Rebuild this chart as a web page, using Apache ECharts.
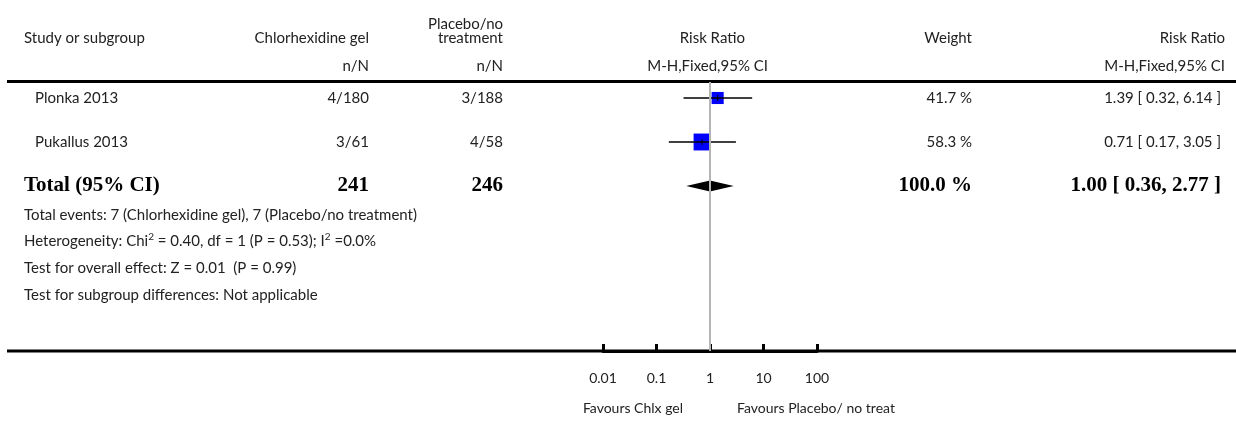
<!DOCTYPE html>
<html>
<head>
<meta charset="utf-8">
<script src="https://cdn.jsdelivr.net/npm/echarts@6/dist/echarts.min.js"></script>
<style>
html,body{margin:0;padding:0;background:#fff;}
#main{width:1236px;height:421px;}
</style>
</head>
<body>
<div id="main"></div>
<script>
// ---- data ----
var studies = ['Plonka 2013', 'Pukallus 2013'];
var expEvents = ['4/180', '3/61'];
var ctlEvents = ['3/188', '4/58'];
var rr = [1.39, 0.71];
var rrLow = [0.32, 0.17];
var rrHigh = [6.14, 3.05];
var weights = [41.7, 58.3];
var weightLabels = ['41.7 %', '58.3 %'];
var rrLabels = ['1.39 [ 0.32, 6.14 ]', '0.71 [ 0.17, 3.05 ]'];
var totalLabel = 'Total (95% CI)';
var totalExp = '241';
var totalCtl = '246';
var totalRR = 1.00;
var totalLow = 0.36;
var totalHigh = 2.77;
var totalWeight = '100.0 %';
var totalRRLabel = '1.00 [ 0.36, 2.77 ]';
var footnotes = [
  'Total events: 7 (Chlorhexidine gel), 7 (Placebo/no treatment)',
  'Heterogeneity: Chi{sup|2} = 0.40, df = 1 (P = 0.53); I{sup|2} =0.0%',
  'Test for overall effect: Z = 0.01  (P = 0.99)',
  'Test for subgroup differences: Not applicable'
];
var tickValues = [0.01, 0.1, 1, 10, 100];
var tickLabels = ['0.01', '0.1', '1', '10', '100'];
var favoursLeft = 'Favours Chlx gel';
var favoursRight = 'Favours Placebo/ no treat';

// ---- layout ----
var SANS = 'Lato, "DejaVu Sans", sans-serif';
var SERIF = '"Liberation Serif", "DejaVu Serif", serif';
var TXT = '#222';
var FS = 15;
var rowPx = 44, firstRowPx = 98, gridTop = 82, gridBottomPx = 351;

var chart = echarts.init(document.getElementById('main'), null, {renderer: 'canvas'});

var studyData = studies.map(function (s, i) {
  return [i, rr[i], rrLow[i], rrHigh[i], weights[i]];
});
var totalData = [[studies.length, totalRR, totalLow, totalHigh]];

chart.setOption({
  animation: false,
  grid: {left: 603, width: 214, top: gridTop, height: gridBottomPx - gridTop},
  xAxis: {
    type: 'log', logBase: 10, min: 0.01, max: 100,
    axisLine: {show: true, onZero: false, lineStyle: {color: '#000', width: 3}},
    axisTick: {show: true, inside: true, length: 7, lineStyle: {color: '#000', width: 3}},
    axisLabel: {show: false},
    splitLine: {show: false},
    minorTick: {show: false}
  },
  yAxis: {
    type: 'value', inverse: true,
    min: (gridTop - firstRowPx) / rowPx,
    max: (gridBottomPx - firstRowPx) / rowPx,
    show: false
  },
  series: [
    {
      type: 'custom',
      data: studyData,
      z: 3,
      renderItem: function (params, api) {
        var y = api.value(0);
        var pEst = api.coord([api.value(1), y]);
        var pLo = api.coord([api.value(2), y]);
        var pHi = api.coord([api.value(3), y]);
        var size = api.value(4) * 0.29;
        return {
          type: 'group',
          children: [
            {type: 'rect', shape: {x: pEst[0] - size / 2, y: pEst[1] - size / 2, width: size, height: size},
              style: {fill: '#0000ff'}},
            {type: 'line', shape: {x1: pLo[0], y1: pLo[1], x2: pHi[0], y2: pHi[1]},
              style: {stroke: '#000', lineWidth: 1.5}},
            {type: 'line', shape: {x1: pEst[0], y1: pEst[1] - 3, x2: pEst[0], y2: pEst[1] + 3},
              style: {stroke: '#000', lineWidth: 1}}
          ]
        };
      },
      markLine: {
        silent: true, symbol: 'none', label: {show: false},
        lineStyle: {color: '#b5b5b5', width: 2, type: 'solid'},
        data: [{xAxis: 1}]
      }
    },
    {
      type: 'custom',
      data: totalData,
      z: 3,
      renderItem: function (params, api) {
        var y = api.value(0);
        var pEst = api.coord([api.value(1), y]);
        var pLo = api.coord([api.value(2), y]);
        var pHi = api.coord([api.value(3), y]);
        var h = 5.5;
        return {
          type: 'polygon',
          shape: {points: [[pLo[0], pLo[1]], [pEst[0], pEst[1] - h], [pHi[0], pHi[1]], [pEst[0], pEst[1] + h]]},
          style: {fill: '#000'}
        };
      }
    }
  ]
});

function rowY(i) { return chart.convertToPixel({yAxisIndex: 0}, i); }
function tx(i) { return chart.convertToPixel({xAxisIndex: 0}, i); }

var g = [];
function T(text, x, y, align, opts) {
  opts = opts || {};
  g.push({
    type: 'text', silent: true,
    style: {
      text: text, x: x, y: y, align: align, verticalAlign: 'middle',
      fill: opts.fill || TXT,
      font: opts.font || (FS + 'px ' + SANS),
      rich: opts.rich
    }
  });
}
// rules
g.push({type: 'line', shape: {x1: 7, y1: 81.5, x2: 1236, y2: 81.5}, style: {stroke: '#000', lineWidth: 3}});
g.push({type: 'line', shape: {x1: 7, y1: 351, x2: 1236, y2: 351}, style: {stroke: '#000', lineWidth: 3}});

// headers
T('Study or subgroup', 24, 38, 'left');
T('Chlorhexidine gel', 369, 38, 'right');
T('Placebo/no', 503, 24, 'right');
T('treatment', 503, 38, 'right');
T('n/N', 369, 66, 'right');
T('n/N', 503, 66, 'right');
T('Risk Ratio', 745, 38, 'right');
T('M-H,Fixed,95% CI', 768, 66, 'right');
T('Weight', 972, 38, 'right');
T('Risk Ratio', 1225, 38, 'right');
T('M-H,Fixed,95% CI', 1225, 66, 'right');

// study rows
studies.forEach(function (s, i) {
  var y = rowY(i);
  T(s, 35, y, 'left');
  T(expEvents[i], 369, y, 'right');
  T(ctlEvents[i], 503, y, 'right');
  T(weightLabels[i], 972, y, 'right');
  T(rrLabels[i], 1221, y, 'right');
});
// total row
var BF = 'bold 21px ' + SERIF;
var ty = rowY(studies.length);
T(totalLabel, 24, ty, 'left', {font: BF, fill: '#000'});
T(totalExp, 369, ty, 'right', {font: BF, fill: '#000'});
T(totalCtl, 503, ty, 'right', {font: BF, fill: '#000'});
T(totalWeight, 972, ty, 'right', {font: BF, fill: '#000'});
T(totalRRLabel, 1221, ty, 'right', {font: BF, fill: '#000'});

// footnotes
var fy = [215, 241, 268, 295];
footnotes.forEach(function (f, i) {
  T(f, 24, fy[i], 'left', {rich: {sup: {font: '10px ' + SANS, fill: TXT, verticalAlign: 'top', padding: [0, 0, 8, 0]}}});
});

// tick labels
tickValues.forEach(function (v, i) {
  T(tickLabels[i], tx(v), 378, 'center', {font: '14px ' + SANS});
});
T(favoursLeft, 683, 408, 'right', {font: '14px ' + SANS});
T(favoursRight, 737, 408, 'left', {font: '14px ' + SANS});

chart.setOption({graphic: {elements: g}});
</script>
</body>
</html>
